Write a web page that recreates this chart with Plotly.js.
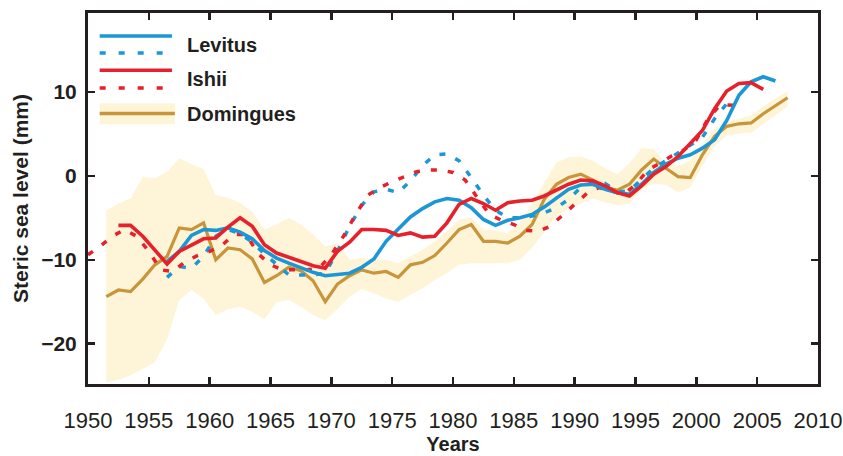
<!DOCTYPE html>
<html>
<head>
<meta charset="utf-8">
<script src="https://cdn.plot.ly/plotly-3.0.1.min.js"></script>
<style>
html,body{margin:0;padding:0;background:#fff;}
#chart{width:843px;height:456px;}
</style>
</head>
<body>
<div id="chart"></div>
<script>
// ---------- Data ----------
var domYears = [1951.5,1952.5,1953.5,1954.5,1955.5,1956.5,1957.5,1958.5,1959.5,1960.5,
  1961.5,1962.5,1963.5,1964.5,1965.5,1966.5,1967.5,1968.5,1969.5,1970.5,
  1971.5,1972.5,1973.5,1974.5,1975.5,1976.5,1977.5,1978.5,1979.5,1980.5,
  1981.5,1982.5,1983.5,1984.5,1985.5,1986.5,1987.5,1988.5,1989.5,1990.5,
  1991.5,1992.5,1993.5,1994.5,1995.5,1996.5,1997.5,1998.5,1999.5,2000.5,
  2001.5,2002.5,2003.5,2004.5,2005.5,2006.5,2007.5];
var domingues = [-14.4,-13.6,-13.8,-12.3,-10.6,-9.6,-6.2,-6.4,-5.6,-10.0,
  -8.6,-8.8,-9.9,-12.7,-11.9,-10.9,-11.3,-12.5,-15.0,-12.9,
  -11.9,-11.2,-11.6,-11.4,-12.1,-10.6,-10.3,-9.5,-8.0,-6.4,
  -5.8,-7.8,-7.8,-8.0,-7.2,-5.8,-2.8,-1.0,-0.2,0.2,
  -0.5,-1.4,-1.7,-1.0,0.7,2.0,0.9,-0.1,-0.2,2.5,
  4.7,5.9,6.2,6.3,7.4,8.4,9.3];
var domUpper = [-4.1,-3.3,-2.7,-0.1,-0.3,0.5,2.1,1.4,0.8,-2.3,
  -2.6,-3.2,-4.3,-6.4,-5.8,-5.0,-5.8,-7.0,-8.4,-8.0,
  -10.0,-9.8,-9.9,-10.0,-10.4,-9.6,-8.8,-7.8,-6.6,-5.2,
  -5.0,-6.4,-6.5,-6.8,-5.5,-3.3,-0.8,1.6,2.2,2.3,
  1.8,0.9,0.2,1.5,3.3,3.2,1.5,1.2,1.8,3.8,
  5.6,6.4,6.8,7.2,8.3,9.2,10.1];
var domLower = [-24.6,-24.3,-23.8,-23.0,-22.2,-19.5,-14.8,-13.6,-14.6,-16.6,
  -15.9,-15.6,-16.2,-17.1,-15.1,-14.8,-15.6,-16.6,-17.2,-15.9,
  -14.4,-13.5,-14.0,-14.6,-15.0,-14.2,-13.4,-12.4,-11.6,-10.6,
  -10.4,-10.4,-10.4,-10.4,-10.0,-8.6,-6.7,-4.8,-3.9,-3.3,
  -2.7,-3.2,-3.5,-3.3,-1.6,-0.9,-1.1,-2.0,-1.4,1.2,
  3.5,4.8,5.0,5.1,6.2,7.3,8.3];

var levYears = [1956.5,1957.5,1958.5,1959.5,1960.5,1961.5,1962.5,1963.5,1964.5,1965.5,
  1966.5,1967.5,1968.5,1969.5,1970.5,1971.5,1972.5,1973.5,1974.5,1975.5,
  1976.5,1977.5,1978.5,1979.5,1980.5,1981.5,1982.5,1983.5,1984.5,1985.5,
  1986.5,1987.5,1988.5,1989.5,1990.5,1991.5,1992.5,1993.5,1994.5,1995.5,
  1996.5,1997.5,1998.5,1999.5,2000.5,2001.5,2002.5,2003.5,2004.5,2005.5,2006.5];
var levitus = [-10.2,-9.0,-7.1,-6.4,-6.5,-6.2,-6.7,-7.5,-8.9,-9.8,
  -10.4,-11.0,-11.5,-11.9,-11.8,-11.6,-10.9,-9.9,-7.8,-6.3,
  -4.9,-3.9,-3.1,-2.7,-2.9,-3.8,-5.2,-5.9,-5.3,-5.0,
  -4.6,-3.7,-2.7,-1.6,-1.1,-1.0,-1.6,-2.0,-2.2,-1.0,
  0.4,1.4,2.1,2.5,3.3,4.3,6.6,9.6,11.2,11.8,11.3];

var levOrigYears = [1956.5,1957.5,1958.5,1959.5,1960.5,1961.5,1962.5,1963.5,1964.5,1965.5,
  1966.5,1967.5,1968.5,1969.5,1970.5,1971.5,1972.5,1973.5,1974.5,1975.5,
  1976.5,1977.5,1978.5,1979.5,1980.5,1981.5,1982.5,1983.5,1984.5,1985.5,
  1986.5,1987.5,1988.5,1989.5,1990.5,1991.5,1992.5,1993.5,1994.5,1995.5,
  1996.5,1997.5,1998.5,1999.5,2000.5,2001.5,2002.5];
var levitusOrig = [-12.1,-10.8,-11.0,-9.6,-7.2,-6.4,-6.9,-7.9,-9.3,-10.6,
  -11.8,-11.8,-11.8,-11.6,-9.0,-6.0,-3.5,-1.9,-1.6,-2.0,
  -0.6,1.2,2.5,2.6,1.8,-0.2,-2.3,-4.1,-5.0,-5.0,
  -4.8,-4.4,-3.8,-2.8,-1.4,-0.8,-0.9,-1.9,-1.8,-0.4,
  0.9,1.8,2.7,3.6,4.6,6.8,8.6];

var ishYears = [1952.5,1953.5,1954.5,1955.5,1956.5,1957.5,1958.5,1959.5,1960.5,1961.5,
  1962.5,1963.5,1964.5,1965.5,1966.5,1967.5,1968.5,1969.5,1970.5,1971.5,
  1972.5,1973.5,1974.5,1975.5,1976.5,1977.5,1978.5,1979.5,1980.5,1981.5,
  1982.5,1983.5,1984.5,1985.5,1986.5,1987.5,1988.5,1989.5,1990.5,1991.5,
  1992.5,1993.5,1994.5,1995.5,1996.5,1997.5,1998.5,1999.5,2000.5,2001.5,
  2002.5,2003.5,2004.5,2005.5];
var ishii = [-5.9,-5.9,-7.2,-8.8,-10.5,-9.0,-8.2,-7.5,-7.4,-6.1,
  -5.0,-6.0,-8.2,-9.2,-9.7,-10.2,-10.7,-11.0,-9.0,-7.9,
  -6.4,-6.4,-6.5,-7.1,-6.8,-7.3,-7.2,-5.6,-3.4,-2.7,
  -3.3,-4.1,-3.2,-3.0,-2.9,-2.4,-1.7,-1.0,-0.5,-0.6,
  -1.2,-2.0,-2.4,-1.2,0.2,1.1,2.3,3.9,5.4,8.0,
  10.1,11.0,11.1,10.3];

var ishOrigYears = [1950,1951,1952,1953,1954,1955,1956,1957,1958,1959,
  1960,1961,1962,1963,1964,1965,1966,1967,1968,1969,
  1970,1971,1972,1973,1974,1975,1976,1977,1978,1979,
  1980,1981,1982,1983,1984,1985,1986,1987,1988,1989,
  1990,1991,1992,1993,1994,1995,1996,1997,1998,1999,
  2000,2001,2002,2003,2003.6];
var ishiiOrig = [-9.4,-8.4,-7.2,-6.4,-7.2,-9.0,-11.2,-11.4,-10.2,-9.5,
  -9.0,-8.3,-7.0,-7.0,-9.3,-10.6,-11.2,-11.2,-11.2,-11.0,
  -9.4,-7.2,-4.6,-2.3,-1.4,-0.7,-0.1,0.5,0.7,0.7,
  0.4,-0.5,-2.6,-4.6,-5.3,-5.8,-6.5,-6.6,-6.0,-4.7,
  -3.4,-2.1,-1.4,-1.8,-2.2,-1.1,0.7,1.5,2.4,3.1,
  4.3,6.9,8.5,8.4,7.8];

var xTicks = [1950,1955,1960,1965,1970,1975,1980,1985,1990,1995,2000,2005,2010];
var yTicks = [-20,-10,0,10];
var legendNames = ['Levitus','Ishii','Domingues'];

// ---------- Styles ----------
var BLUE = '#1c97d5', RED = '#e6212b', GOLD = '#c8953a', BAND = '#fef5d8';
var DOTS = '6px,11px';

var traces = [
  {x: domYears, y: domUpper, mode: 'lines', line: {width: 0, color: BAND}, hoverinfo: 'skip', showlegend: false},
  {x: domYears, y: domLower, mode: 'lines', line: {width: 0, color: BAND}, fill: 'tonexty', fillcolor: BAND, hoverinfo: 'skip', showlegend: false},
  {x: domYears, y: domingues, mode: 'lines', line: {width: 3.2, color: GOLD}, showlegend: false},
  {x: levOrigYears, y: levitusOrig, mode: 'lines', line: {width: 3.5, color: BLUE, dash: DOTS}, showlegend: false},
  {x: ishOrigYears, y: ishiiOrig, mode: 'lines', line: {width: 3.5, color: RED, dash: DOTS}, showlegend: false},
  {x: levYears, y: levitus, mode: 'lines', line: {width: 3.6, color: BLUE}, showlegend: false},
  {x: ishYears, y: ishii, mode: 'lines', line: {width: 3.6, color: RED}, showlegend: false}
];

// ---------- Manual legend (paper coordinates) ----------
var lx0 = 0.016, lx1 = 0.115;
var shapes = [
  {type:'line', xref:'paper', yref:'paper', x0:lx0, x1:lx1, y0:0.938, y1:0.938, line:{color:BLUE, width:3.5}},
  {type:'line', xref:'paper', yref:'paper', x0:lx0, x1:lx1, y0:0.892, y1:0.892, line:{color:BLUE, width:3.5, dash:'6px,13px'}},
  {type:'line', xref:'paper', yref:'paper', x0:lx0, x1:lx1, y0:0.846, y1:0.846, line:{color:RED, width:3.5}},
  {type:'line', xref:'paper', yref:'paper', x0:lx0, x1:lx1, y0:0.798, y1:0.798, line:{color:RED, width:3.5, dash:'6px,13px'}},
  {type:'rect', xref:'paper', yref:'paper', x0:lx0, x1:lx1+0.004, y0:0.700, y1:0.757, line:{width:0}, fillcolor:BAND, layer:'below'},
  {type:'line', xref:'paper', yref:'paper', x0:lx0, x1:lx1+0.004, y0:0.729, y1:0.729, line:{color:GOLD, width:3.5}}
];
var legFont = {family:'Liberation Sans, Arial, sans-serif', size:20, color:'#231f20'};
var annotations = [
  {xref:'paper', yref:'paper', x:0.133, y:0.914, xanchor:'left', yanchor:'middle', showarrow:false, text:'<b>'+legendNames[0]+'</b>', font:legFont},
  {xref:'paper', yref:'paper', x:0.133, y:0.822, xanchor:'left', yanchor:'middle', showarrow:false, text:'<b>'+legendNames[1]+'</b>', font:legFont},
  {xref:'paper', yref:'paper', x:0.133, y:0.729, xanchor:'left', yanchor:'middle', showarrow:false, text:'<b>'+legendNames[2]+'</b>', font:legFont}
];

var layout = {
  width: 843, height: 456,
  margin: {l: 88, r: 25, t: 13, b: 72},
  paper_bgcolor: '#ffffff', plot_bgcolor: '#ffffff',
  showlegend: false,
  font: {family: 'Liberation Sans, Arial, sans-serif', color: '#231f20'},
  xaxis: {
    range: [1950, 2010], tickmode: 'array', tickvals: xTicks, ticktext: xTicks.map(String),
    showgrid: false, zeroline: false,
    showline: true, linecolor: '#231f20', linewidth: 3, mirror: 'ticks',
    ticks: 'inside', ticklen: 7, tickwidth: 2.5, tickcolor: '#231f20',
    tickfont: {size: 22, color: '#231f20'},
    ticklabelstandoff: 15,
    title: {text: '<b>Years</b>', font: {size: 20, color: '#231f20'}, standoff: 2}
  },
  yaxis: {
    range: [-24.8, 19.4], tickmode: 'array', tickvals: yTicks, ticktext: ['\u221220','\u221210','0','10'],
    showgrid: false, zeroline: false,
    showline: true, linecolor: '#231f20', linewidth: 3, mirror: 'ticks',
    ticks: 'inside', ticklen: 7, tickwidth: 2.5, tickcolor: '#231f20',
    tickfont: {size: 21, color: '#231f20', weight: 'bold'},
    ticklabelstandoff: 4,
    title: {text: '<b>Steric sea level (mm)</b>', font: {size: 21, color: '#231f20'}, standoff: 7}
  },
  shapes: shapes,
  annotations: annotations
};

Plotly.newPlot('chart', traces, layout, {staticPlot: true, displayModeBar: false});
</script>
</body>
</html>
